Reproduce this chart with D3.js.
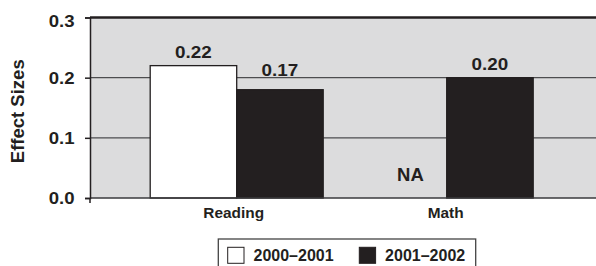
<!DOCTYPE html>
<html><head><meta charset="utf-8">
<script src="https://cdn.jsdelivr.net/npm/d3@7"></script>
<style>
html,body{margin:0;padding:0;background:#fff;}
svg{display:block;}
text{font-family:"Liberation Sans",Arial,Helvetica,sans-serif;font-weight:bold;fill:#231f20;}
</style></head>
<body>
<svg id="chart" width="596" height="266"></svg>
<script>
// ---- data ----
const categories = ["Reading", "Math"];
const series = ["2000\u20132001", "2001\u20132002"];
const values2000 = [0.22, null];      // Math 2000–2001 not available
const values2001 = [0.18, 0.20];
const valueLabels2000 = ["0.22", "NA"];
const valueLabels2001 = ["0.17", "0.20"];
const yTicks = [0.0, 0.1, 0.2, 0.3];
const yTickLabels = ["0.0", "0.1", "0.2", "0.3"];
const yTitle = "Effect Sizes";

// ---- layout ----
const W = 596, H = 266;
const plotLeft = 90, plotRight = 600, plotTop = 17.5, plotBottom = 198;
const svg = d3.select("#chart");
const ink = "#231f20";

const y = d3.scaleLinear().domain([0, 0.3]).range([plotBottom, plotTop]);
const x = d3.scaleBand().domain(categories).range([131.7, 551.7]).padding(0);
const xs = d3.scaleBand().domain(series).range([18.5, 191.5]).padding(0);

const rows = categories.map((c, i) => ({
  cat: c,
  vals: [
    {s: series[0], v: values2000[i], lab: valueLabels2000[i]},
    {s: series[1], v: values2001[i], lab: valueLabels2001[i]}
  ]
}));

// background
svg.append("rect").attr("x", plotLeft).attr("y", y(0.3))
  .attr("width", plotRight - plotLeft).attr("height", y(0) - y(0.3))
  .attr("fill", "#dcdcdd");

// gridlines
svg.append("g").selectAll("line").data(yTicks.filter(t => t > 0 && t < 0.3)).join("line")
  .attr("x1", plotLeft).attr("x2", plotRight)
  .attr("y1", d => y(d)).attr("y2", d => y(d))
  .attr("stroke", "#4d4d4f").attr("stroke-width", 1.3);

// top border
svg.append("line").attr("x1", plotLeft).attr("x2", plotRight)
  .attr("y1", y(0.3)).attr("y2", y(0.3))
  .attr("stroke", ink).attr("stroke-width", 2.4);

// bars
const g = svg.append("g").selectAll("g").data(rows).join("g")
  .attr("transform", d => `translate(${x(d.cat)},0)`);

g.selectAll("rect").data(d => d.vals.filter(v => v.v != null)).join("rect")
  .attr("x", d => xs(d.s)).attr("width", xs.bandwidth())
  .attr("y", d => y(d.v)).attr("height", d => y(0) - y(d.v))
  .attr("fill", d => d.s === series[0] ? "#fff" : ink)
  .attr("stroke", ink).attr("stroke-width", 1.3);

// value labels
g.selectAll("text.val").data(d => d.vals).join("text")
  .attr("class", "val")
  .attr("text-anchor", "middle")
  .attr("transform", d => {
    if (d.v == null) return `translate(${xs(d.s) + xs.bandwidth() / 2 + 7},${y(0) - 17.3})`;
    const ty = Math.min(y(d.v) - 7.5, y(0.2) - 2);
    return `translate(${xs(d.s) + xs.bandwidth() / 2},${ty}) scale(1.11,1)`;
  })
  .style("font-size", d => d.v == null ? "18.5px" : "17px")
  .text(d => d.lab);

// x axis line
svg.append("line").attr("x1", plotLeft).attr("x2", plotRight)
  .attr("y1", y(0)).attr("y2", y(0))
  .attr("stroke", "#3a3a3c").attr("stroke-width", 1.5);
// small tick below at origin
svg.append("line").attr("x1", plotLeft).attr("x2", plotLeft)
  .attr("y1", y(0)).attr("y2", y(0) + 5)
  .attr("stroke", ink).attr("stroke-width", 1.5);

// y axis
const yAxis = d3.axisLeft(y).tickValues(yTicks).tickSize(5).tickFormat((d, i) => yTickLabels[i]);
const ya = svg.append("g").attr("transform", `translate(${plotLeft},0)`).call(yAxis);
ya.attr("font-family", null).attr("font-size", null);
ya.select(".domain").attr("stroke", ink).attr("stroke-width", 1.5);
ya.selectAll(".tick line").attr("stroke", ink).attr("stroke-width", 1.5);
ya.selectAll(".tick text")
  .attr("x", null).attr("dy", null)
  .attr("text-anchor", "end")
  .attr("transform", d => `translate(-15.5,${d === 0.3 ? 8.6 : 5.8}) scale(1.16,1)`)
  .style("font-size", "16px").attr("fill", ink);

// category labels
svg.append("g").selectAll("text").data(categories).join("text")
  .attr("x", d => x(d) + x.bandwidth() / 2 - (d === "Reading" ? 3 : 1))
  .attr("y", 218.3)
  .attr("text-anchor", "middle")
  .style("font-size", "15.4px")
  .text(d => d);

// y title
svg.append("text")
  .attr("transform", `translate(24,${(y(0) + y(0.3)) / 2 + 3.5}) rotate(-90)`)
  .attr("text-anchor", "middle")
  .style("font-size", "18.5px")
  .text(yTitle);

// legend
const lg = svg.append("g");
lg.append("rect").attr("x", 218.3).attr("y", 239).attr("width", 257.4).attr("height", 40)
  .attr("fill", "#fff").attr("stroke", "#444").attr("stroke-width", 1.3);
const legendX = [227.7, 359.3];
const li = lg.selectAll("g").data(series).join("g")
  .attr("transform", (d, i) => `translate(${legendX[i]},247.3)`);
li.append("rect").attr("width", 16.3).attr("height", 16)
  .attr("fill", (d, i) => i === 0 ? "#fff" : ink)
  .attr("stroke", ink).attr("stroke-width", 1);
li.append("text").attr("x", 25.8).attr("y", 14)
  .style("font-size", "16px").text(d => d);
</script>
</body></html>
